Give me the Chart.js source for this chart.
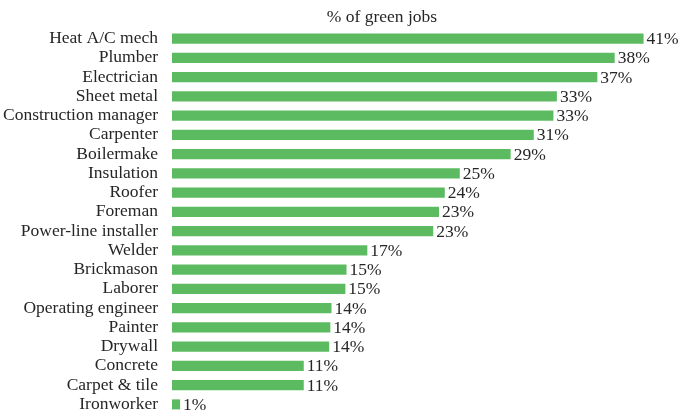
<!DOCTYPE html>
<html>
<head>
<meta charset="utf-8">
<script src="https://cdn.jsdelivr.net/npm/chart.js@4"></script>
<style>
  html, body { margin: 0; padding: 0; background: #fff; overflow: hidden; }
</style>
</head>
<body>
<canvas id="myChart" width="679" height="414"></canvas>
<script>
// data (labels show rounded values)
let jobs = ["Heat A/C mech","Plumber","Electrician","Sheet metal","Construction manager","Carpenter",
  "Boilermake","Insulation","Roofer","Foreman","Power-line installer","Welder","Brickmason","Laborer",
  "Operating engineer","Painter","Drywall","Concrete","Carpet & tile","Ironworker"]
let greenShare = [40.8, 38.3, 36.8, 33.3, 33.0, 31.3, 29.3, 24.9, 23.6, 23.1, 22.6, 16.9, 15.1, 15.0,
  13.8, 13.7, 13.6, 11.4, 11.4, 0.7]
let chartTitle = "% of green jobs"

let font = "Liberation Serif, Times New Roman, serif"
let fontSize = 17.5
let textColor = "#262626"

// value labels at the end of each bar + title
const barLabels = {
  id: 'barLabels',
  afterDatasetsDraw(chart) {
    let ctx = chart.ctx
    let meta = chart.getDatasetMeta(0)
    ctx.save()
    ctx.font = fontSize + "px " + font
    ctx.fillStyle = textColor
    ctx.textBaseline = 'middle'
    ctx.textAlign = 'left'
    meta.data.forEach((bar, i) => {
      ctx.fillText(Math.round(greenShare[i]) + "%", bar.x + 3, bar.y + 1)
    })
    ctx.textAlign = 'center'
    ctx.fillText(chartTitle, 382, 17)
    ctx.restore()
  }
}

let ctx = document.getElementById('myChart')
new Chart(ctx, {
  type: 'bar',
  data: {
    labels: jobs,
    datasets: [{
      data: greenShare,
      backgroundColor: '#5cbb60',
      borderWidth: 0,
      barPercentage: 0.52,
      categoryPercentage: 1
    }]
  },
  options: {
    indexAxis: 'y',
    responsive: false,
    animation: false,
    layout: { padding: { top: 29, right: 10, bottom: 0, left: 0 } },
    plugins: {
      legend: { display: false },
      tooltip: { enabled: false }
    },
    scales: {
      x: {
        display: false,
        min: 0,
        max: 43
      },
      y: {
        grid: { display: false, drawTicks: false },
        border: { display: false },
        ticks: {
          color: textColor,
          font: { family: font, size: fontSize },
          padding: 14,
          autoSkip: false
        },
        afterFit(scale) {
          scale.width = 172
          scale.paddingTop = 0
          scale.paddingBottom = 0
        }
      }
    }
  },
  plugins: [barLabels]
})
</script>
</body>
</html>
